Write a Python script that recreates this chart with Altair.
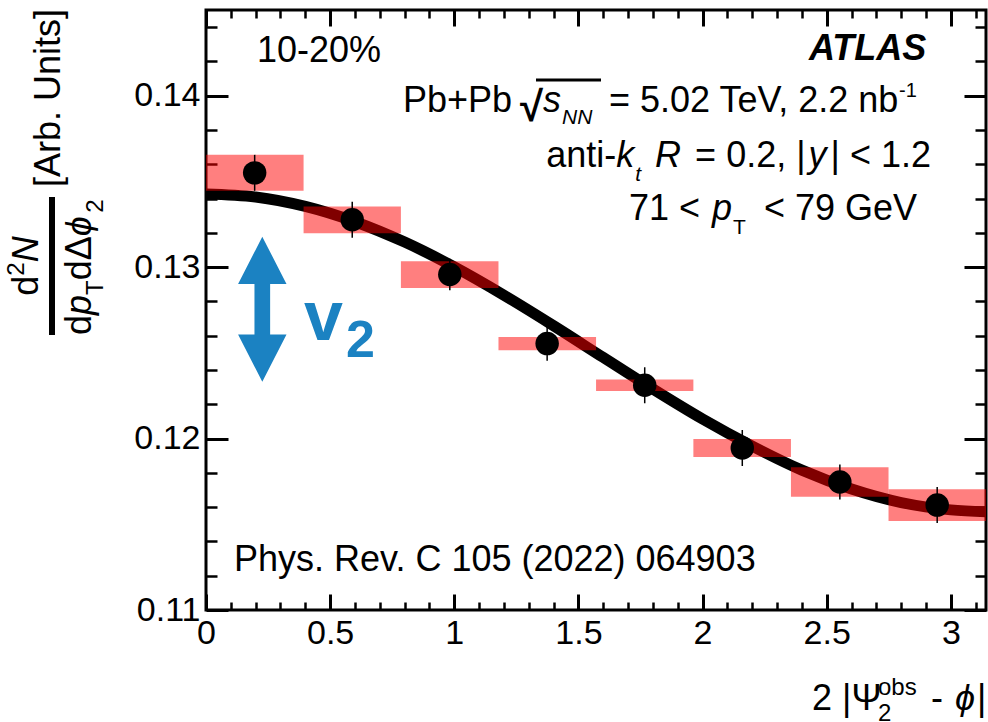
import altair as alt
import pandas as pd

FONT = "Liberation Sans"
BLUE = "#1b82c2"

# ---------------- data ----------------
bin_lo = [0.0, 0.393, 0.785, 1.178, 1.571, 1.963, 2.356, 2.749]
bin_hi = [0.393, 0.785, 1.178, 1.571, 1.963, 2.356, 2.749, 3.1416]
bin_center = [0.196, 0.589, 0.982, 1.374, 1.767, 2.160, 2.553, 2.945]
dn_values = [0.13550, 0.13276, 0.12957, 0.12554, 0.12311, 0.11945, 0.11747, 0.11612]
stat_err = [0.00105, 0.00105, 0.00092, 0.00100, 0.00105, 0.00105, 0.00102, 0.00105]
sys_err = [0.00105, 0.00078, 0.00078, 0.00039, 0.00034, 0.00053, 0.00086, 0.00093]

fit_x = [0.0, 0.2, 0.4, 0.6, 0.8, 1.0, 1.2, 1.4, 1.6, 1.8, 2.0, 2.2, 2.4, 2.6, 2.8, 3.0, 3.1416]
fit_y = [0.13427, 0.13409, 0.13354, 0.13265, 0.13146, 0.13001, 0.12836, 0.12658, 0.12473,
         0.12289, 0.12114, 0.11956, 0.11816, 0.11706, 0.11627, 0.11584, 0.11573]

x_major = [0, 0.5, 1, 1.5, 2, 2.5, 3]
x_minor = [0.1, 0.2, 0.3, 0.4, 0.6, 0.7, 0.8, 0.9, 1.1, 1.2, 1.3, 1.4, 1.6, 1.7, 1.8, 1.9,
           2.1, 2.2, 2.3, 2.4, 2.6, 2.7, 2.8, 2.9, 3.1]
y_major = [0.11, 0.12, 0.13, 0.14]
y_minor = [0.112, 0.114, 0.116, 0.118, 0.122, 0.124, 0.126, 0.128, 0.132, 0.134, 0.136,
           0.138, 0.142, 0.144]

# ---------------- layout ----------------
W, H = 780, 600
PAD_L, PAD_T, PAD_R, PAD_B = 206, 10, 2, 112

pts = pd.DataFrame({"x": bin_center, "y": dn_values, "stat": stat_err, "sys": sys_err,
                    "lo": bin_lo, "hi": bin_hi})
pts["stat_lo"] = pts["y"] - pts["stat"]
pts["stat_hi"] = pts["y"] + pts["stat"]
pts["sys_lo"] = pts["y"] - pts["sys"]
pts["sys_hi"] = pts["y"] + pts["sys"]
fit = pd.DataFrame({"x": fit_x, "y": fit_y})

xs = alt.Scale(domain=[0, 3.14159], nice=False, zero=False)
ys = alt.Scale(domain=[0.11, 0.145], nice=False, zero=False)


def tick_axis(orient, offset, values, size, width=3):
    return alt.Axis(orient=orient, offset=offset, values=values, tickSize=size,
                    tickWidth=width, tickColor="black", ticks=True, labels=False,
                    domain=False, grid=False, title=None)


x_lab = alt.Axis(orient="bottom", values=x_major, format="~g", labelFont=FONT,
                 labelFontSize=34, labelColor="black", labelPadding=6, labelFlush=False,
                 labelOverlap=False, ticks=False, tickSize=0, domain=False, grid=False,
                 title=None)
y_lab = alt.Axis(orient="left", values=y_major, format=".2f", labelFont=FONT,
                 labelFontSize=34, labelColor="black", labelPadding=6, labelFlush=False,
                 labelOverlap=False, ticks=False, tickSize=0, domain=False, grid=False,
                 title=None)

curve = alt.Chart(fit).mark_line(color="black", strokeWidth=11, interpolate="monotone",
                                 clip=True).encode(
    x=alt.X("x:Q", scale=xs, axis=x_lab),
    y=alt.Y("y:Q", scale=ys, axis=y_lab))

boxes = alt.Chart(pts).mark_rect(color="#ff0000", opacity=0.5).encode(
    x=alt.X("lo:Q", scale=xs, axis=tick_axis("top", -H, x_major, 16)),
    x2="hi:Q",
    y=alt.Y("sys_lo:Q", scale=ys, axis=tick_axis("right", -W, y_major, 22)),
    y2="sys_hi:Q")

bars = alt.Chart(pts).mark_rule(color="black", strokeWidth=1.5).encode(
    x=alt.X("x:Q", scale=xs, axis=tick_axis("top", -H, x_minor, 8, 2.5)),
    y=alt.Y("stat_lo:Q", scale=ys, axis=tick_axis("right", -W, y_minor, 11, 2.5)),
    y2="stat_hi:Q")

dots = alt.Chart(pts).mark_circle(color="black", size=550, opacity=1).encode(
    x=alt.X("x:Q", scale=xs, axis=tick_axis("bottom", -H, x_major, 16)),
    y=alt.Y("y:Q", scale=ys, axis=tick_axis("left", -W, y_major, 22)))

extra = alt.Chart(pts).mark_point(opacity=0).encode(
    x=alt.X("x:Q", scale=xs, axis=tick_axis("bottom", -H, x_minor, 8, 2.5)),
    y=alt.Y("y:Q", scale=ys, axis=tick_axis("left", -W, y_minor, 11, 2.5)))

# ---------------- text annotations ----------------
CW = {' ': 278, '%': 889, '(': 333, ')': 333, '+': 584, ',': 278, '-': 333, '.': 278,
      '<': 584, '=': 584, '|': 260, '[': 278, ']': 278,
      'A': 667, 'C': 722, 'G': 778, 'L': 556, 'N': 722, 'P': 667, 'R': 722, 'S': 667,
      'T': 611, 'U': 722, 'V': 667,
      'a': 556, 'b': 556, 'd': 556, 'e': 556, 'h': 556, 'i': 222, 'k': 500, 'n': 556,
      'o': 556, 'p': 556, 'r': 333, 's': 500, 't': 278, 'v': 500, 'y': 500,
      '\u0394': 668, '\u03d5': 650, '\u03a8': 834, '\u221a': 549}
BW = {'A': 722, 'T': 611, 'L': 611, 'S': 667, 'v': 556}


def tw(s, size, weight="normal"):
    tot = 0
    for c in s:
        if weight == "bold" and c in BW:
            tot += BW[c]
        else:
            tot += CW.get(c, 556)
    return tot * size / 1000.0


pieces = []


def put(text, x, y, size=36, style="normal", weight="normal", angle=0, color="black"):
    pieces.append(dict(text=text, px=x - PAD_L, py=y - PAD_T, size=size, style=style,
                       weight=weight, angle=angle, color=color))


def chain_right(segs, right_x, bl):
    total = sum(tw(t, s, w) + g for (t, s, st, w, dy, g) in segs)
    x = right_x - total
    for (t, s, st, w, dy, g) in segs:
        x += g
        put(t, x, bl + dy, size=s, style=st, weight=w)
        x += tw(t, s, w)


def chain_up(segs, base_x, start_y):
    y = start_y
    for (t, s, st, w, dy, g) in segs:
        y -= g
        put(t, base_x + dy, y, size=s, style=st, weight=w, angle=270)
        y -= tw(t, s, w)


N_, I_, B_ = "normal", "italic", "bold"

put("10-20%", 257, 62)
put("ATLAS", 929 - tw("ATLAS", 36, B_), 60, style=I_, weight=B_)

put("Pb+Pb", 403, 112)
put("\u221a", 520, 121, size=42, weight=B_)
put("s", 543, 112, style=I_)
put("NN", 562, 124, size=21, style=I_)
put("= 5.02 TeV, 2.2 nb", 609, 112)
put("-1", 899, 97, size=20)

chain_right([("anti-", 36, N_, N_, 0, 0), ("k", 36, I_, N_, 0, 0),
             ("t", 21, I_, N_, 14, 1), ("R", 36, I_, N_, 0, 14),
             ("= 0.2, |", 36, N_, N_, 0, 14), ("y", 36, I_, N_, 0, 3),
             ("| < 1.2", 36, N_, N_, 0, 4)], 931, 167)

chain_right([("71 <", 36, N_, N_, 0, 0), ("p", 36, I_, N_, 0, 12),
             ("T", 21, N_, N_, 14, 1), ("< 79 GeV", 36, N_, N_, 0, 18)], 917, 220)

put("Phys. Rev. C 105 (2022) 064903", 234, 571)

# x-axis title
put("2 |\u03a8", 812, 710)
put("obs", 878, 695, size=24)
put("2", 878, 721, size=24)
put("-", 931, 710)
put("\u03d5", 955, 710, style=I_)
put("|", 977, 710)

# y-axis title (rotated)
put("[Arb. Units]", 60, 187, angle=270)
num = [("d", 36, N_, N_, 0, 0), ("2", 24, N_, N_, -14, 0), ("N", 36, I_, N_, 0, 0)]
num_w = sum(tw(t, s) for (t, s, st, w, dy, g) in num)
chain_up(num, 38, 266 + num_w / 2)
chain_up([("d", 36, N_, N_, 0, 0), ("p", 36, I_, N_, 0, 0), ("T", 24, N_, N_, 12, 0),
          ("d\u0394", 36, N_, N_, 0, 0), ("\u03d5", 36, I_, N_, 0, 0),
          ("2", 24, N_, N_, 12, 0)], 91, 335)

# v2 label
put("v", 304, 340, size=70, weight=B_, color=BLUE)
put("2", 346, 357, size=52, weight=B_, color=BLUE)

tdf = pd.DataFrame(pieces)
text_layers = []
for (st, wt, ang), sub in tdf.groupby(["style", "weight", "angle"]):
    text_layers.append(
        alt.Chart(sub).mark_text(align="left", baseline="alphabetic", font=FONT,
                                 fontStyle=st, fontWeight=wt, angle=int(ang)).encode(
            x=alt.X("px:Q", scale=None, axis=None),
            y=alt.Y("py:Q", scale=None, axis=None),
            text="text:N",
            size=alt.Size("size:Q", scale=None, legend=None),
            color=alt.Color("color:N", scale=None, legend=None)))

one = pd.DataFrame({"k": [0]})
ARROW = ("M0,-1L0.334,-0.348L0.108,-0.348L0.108,0.348L0.334,0.348L0,1L-0.334,0.348"
         "L-0.108,0.348L-0.108,-0.348L-0.334,-0.348Z")
arrow = alt.Chart(one).mark_point(shape=ARROW, filled=True, size=21025, color=BLUE,
                                  opacity=1, strokeWidth=0).encode(
    x=alt.value(262.3 - PAD_L), y=alt.value(309.2 - PAD_T))

frac_bar = alt.Chart(one).mark_rule(color="black", strokeWidth=6).encode(
    x=alt.value(52 - PAD_L), y=alt.value(197 - PAD_T), y2=alt.value(335 - PAD_T))

overline = alt.Chart(one).mark_rule(color="black", strokeWidth=3).encode(
    x=alt.value(536 - PAD_L), x2=alt.value(601 - PAD_L), y=alt.value(80 - PAD_T))

chart = alt.layer(curve, boxes, bars, dots, extra, arrow, frac_bar, overline,
                  *text_layers).resolve_scale(
    x="independent", y="independent").resolve_axis(
    x="independent", y="independent").properties(
    width=W, height=H,
    padding={"left": PAD_L, "top": PAD_T, "right": PAD_R, "bottom": PAD_B},
    autosize=alt.AutoSizeParams(type="none"),
    background="white").configure_view(stroke="black", strokeWidth=3)

chart.save("out.html", embed_options={"renderer": "svg", "actions": False})
